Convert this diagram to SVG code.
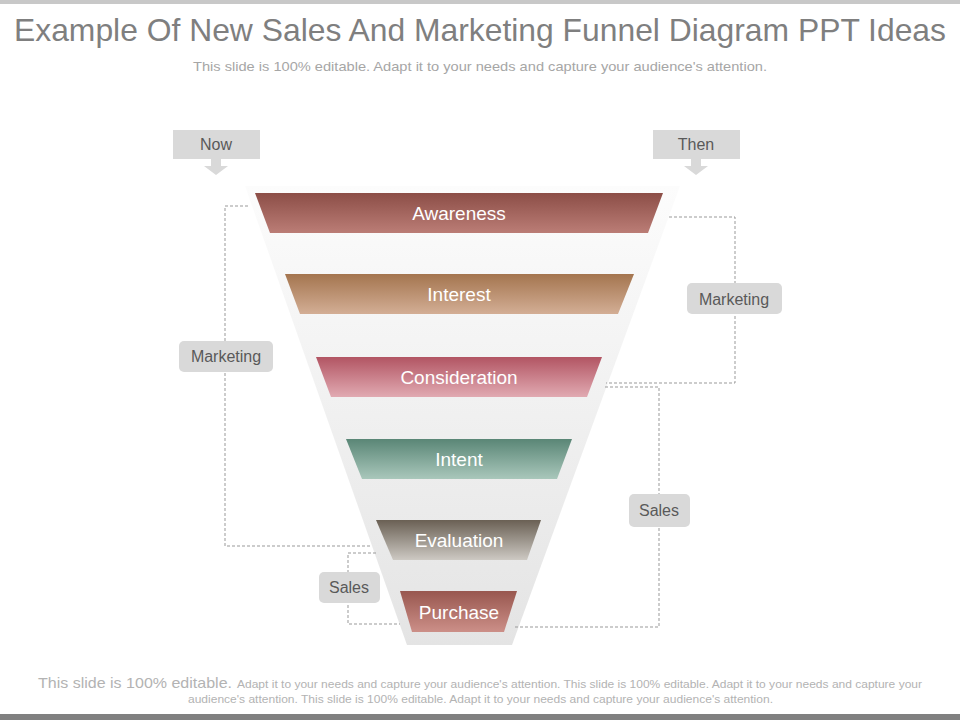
<svg xmlns="http://www.w3.org/2000/svg" width="960" height="720" viewBox="0 0 960 720">
<defs>
<linearGradient id="gFunnel" x1="0" y1="0" x2="0" y2="1"><stop offset="0" stop-color="#fcfcfc"/><stop offset="1" stop-color="#e4e4e4"/></linearGradient>
<linearGradient id="g1" x1="0" y1="0" x2="0" y2="1"><stop offset="0" stop-color="#8c4e47"/><stop offset="1" stop-color="#bb7d76"/></linearGradient>
<linearGradient id="g2" x1="0" y1="0" x2="0" y2="1"><stop offset="0" stop-color="#a4754f"/><stop offset="1" stop-color="#d3ae95"/></linearGradient>
<linearGradient id="g3" x1="0" y1="0" x2="0" y2="1"><stop offset="0" stop-color="#b25563"/><stop offset="1" stop-color="#e1aab2"/></linearGradient>
<linearGradient id="g4" x1="0" y1="0" x2="0" y2="1"><stop offset="0" stop-color="#5a8676"/><stop offset="1" stop-color="#a9c7bb"/></linearGradient>
<linearGradient id="g5" x1="0" y1="0" x2="0" y2="1"><stop offset="0" stop-color="#6a6054"/><stop offset="1" stop-color="#cdc9c3"/></linearGradient>
<linearGradient id="g6" x1="0" y1="0" x2="0" y2="1"><stop offset="0" stop-color="#98574f"/><stop offset="1" stop-color="#cc8f88"/></linearGradient>
</defs>
<style>
.band-label{font-family:"Liberation Sans",Arial,sans-serif;font-size:19px;fill:#ffffff;text-anchor:middle}
.tag{fill:#d9d9d9}
.tag-text{font-family:"Liberation Sans",Arial,sans-serif;font-size:16px;fill:#595959;text-anchor:middle}
.conn{fill:none;stroke:#999999;stroke-width:1;stroke-dasharray:3 2}
.foot{font-family:"Liberation Sans",Arial,sans-serif;fill:#b3b3b3}
</style>
<rect x="0" y="0" width="960" height="720" fill="#ffffff"/>
<rect x="0" y="0" width="960" height="4" fill="#c8c8c8"/>
<rect x="0" y="714" width="960" height="6" fill="#808080"/>
<text x="480" y="41" text-anchor="middle" font-family="Liberation Sans, Arial, sans-serif" font-size="32" fill="#7f7f7f" textLength="932" lengthAdjust="spacingAndGlyphs">Example Of New Sales And Marketing Funnel Diagram PPT Ideas</text>
<text x="480" y="71" text-anchor="middle" font-family="Liberation Sans, Arial, sans-serif" font-size="13" fill="#a6a6a6" textLength="574" lengthAdjust="spacingAndGlyphs">This slide is 100% editable. Adapt it to your needs and capture your audience's attention.</text>

<g id="funnel-body">
<polygon points="245,186 680,186 512,645 407,645" fill="url(#gFunnel)"/>
</g>

<g id="connectors">
<polyline class="conn" points="248,206 225,206 225,546 372,546"/>
<polyline class="conn" points="669,217 735,217 735,383 606,383"/>
<polyline class="conn" points="605,387 659,387 659,627 513,627"/>
<polyline class="conn" points="376,553 348,553 348,624 400,624"/>
</g>

<g id="now">
<rect class="tag" x="173" y="130" width="87" height="29"/>
<polygon class="tag" points="211,159 221,159 221,166 228,166 216,175 204,166 211,166"/>
<text class="tag-text" x="216" y="150">Now</text>
</g>
<g id="then">
<rect class="tag" x="653" y="130" width="87" height="29"/>
<polygon class="tag" points="691,159 701,159 701,166 708,166 696,175 684,166 691,166"/>
<text class="tag-text" x="696" y="150">Then</text>
</g>

<g id="awareness">
<polygon points="255,193 663,193 648,233 270,233" fill="url(#g1)"/>
<text class="band-label" x="459" y="220">Awareness</text>
</g>
<g id="interest">
<polygon points="285,274 634,274 618,314 300,314" fill="url(#g2)"/>
<text class="band-label" x="459" y="301">Interest</text>
</g>
<g id="consideration">
<polygon points="316,357 602,357 587,397 331,397" fill="url(#g3)"/>
<text class="band-label" x="459" y="384">Consideration</text>
</g>
<g id="intent">
<polygon points="346,439 572,439 557,479 362,479" fill="url(#g4)"/>
<text class="band-label" x="459" y="466">Intent</text>
</g>
<g id="evaluation">
<polygon points="376,520 541,520 527,560 393,560" fill="url(#g5)"/>
<text class="band-label" x="459" y="547">Evaluation</text>
</g>
<g id="purchase">
<polygon points="400,591 517,591 504,632 412,632" fill="url(#g6)"/>
<text class="band-label" x="459" y="619">Purchase</text>
</g>

<g id="marketing-left">
<rect class="tag" x="179" y="341" width="94" height="31" rx="5"/>
<text class="tag-text" x="226" y="362">Marketing</text>
</g>
<g id="marketing-right">
<rect class="tag" x="687" y="283" width="95" height="31" rx="5"/>
<text class="tag-text" x="734" y="305">Marketing</text>
</g>
<g id="sales-right">
<rect class="tag" x="629" y="494" width="61" height="33" rx="5"/>
<text class="tag-text" x="659" y="516">Sales</text>
</g>
<g id="sales-left">
<rect class="tag" x="319" y="572" width="61" height="31" rx="5"/>
<text class="tag-text" x="349" y="593">Sales</text>
</g>

<text class="foot" x="38" y="688" font-size="15" textLength="194" lengthAdjust="spacingAndGlyphs">This slide is 100% editable.</text>
<text class="foot" x="237" y="688" font-size="11" textLength="685" lengthAdjust="spacingAndGlyphs">Adapt it to your needs and capture your audience's attention. This slide is 100% editable. Adapt it to your needs and capture your</text>
<text class="foot" x="188" y="703" font-size="11" textLength="585" lengthAdjust="spacingAndGlyphs">audience's attention. This slide is 100% editable. Adapt it to your needs and capture your audience's attention.</text>
</svg>
